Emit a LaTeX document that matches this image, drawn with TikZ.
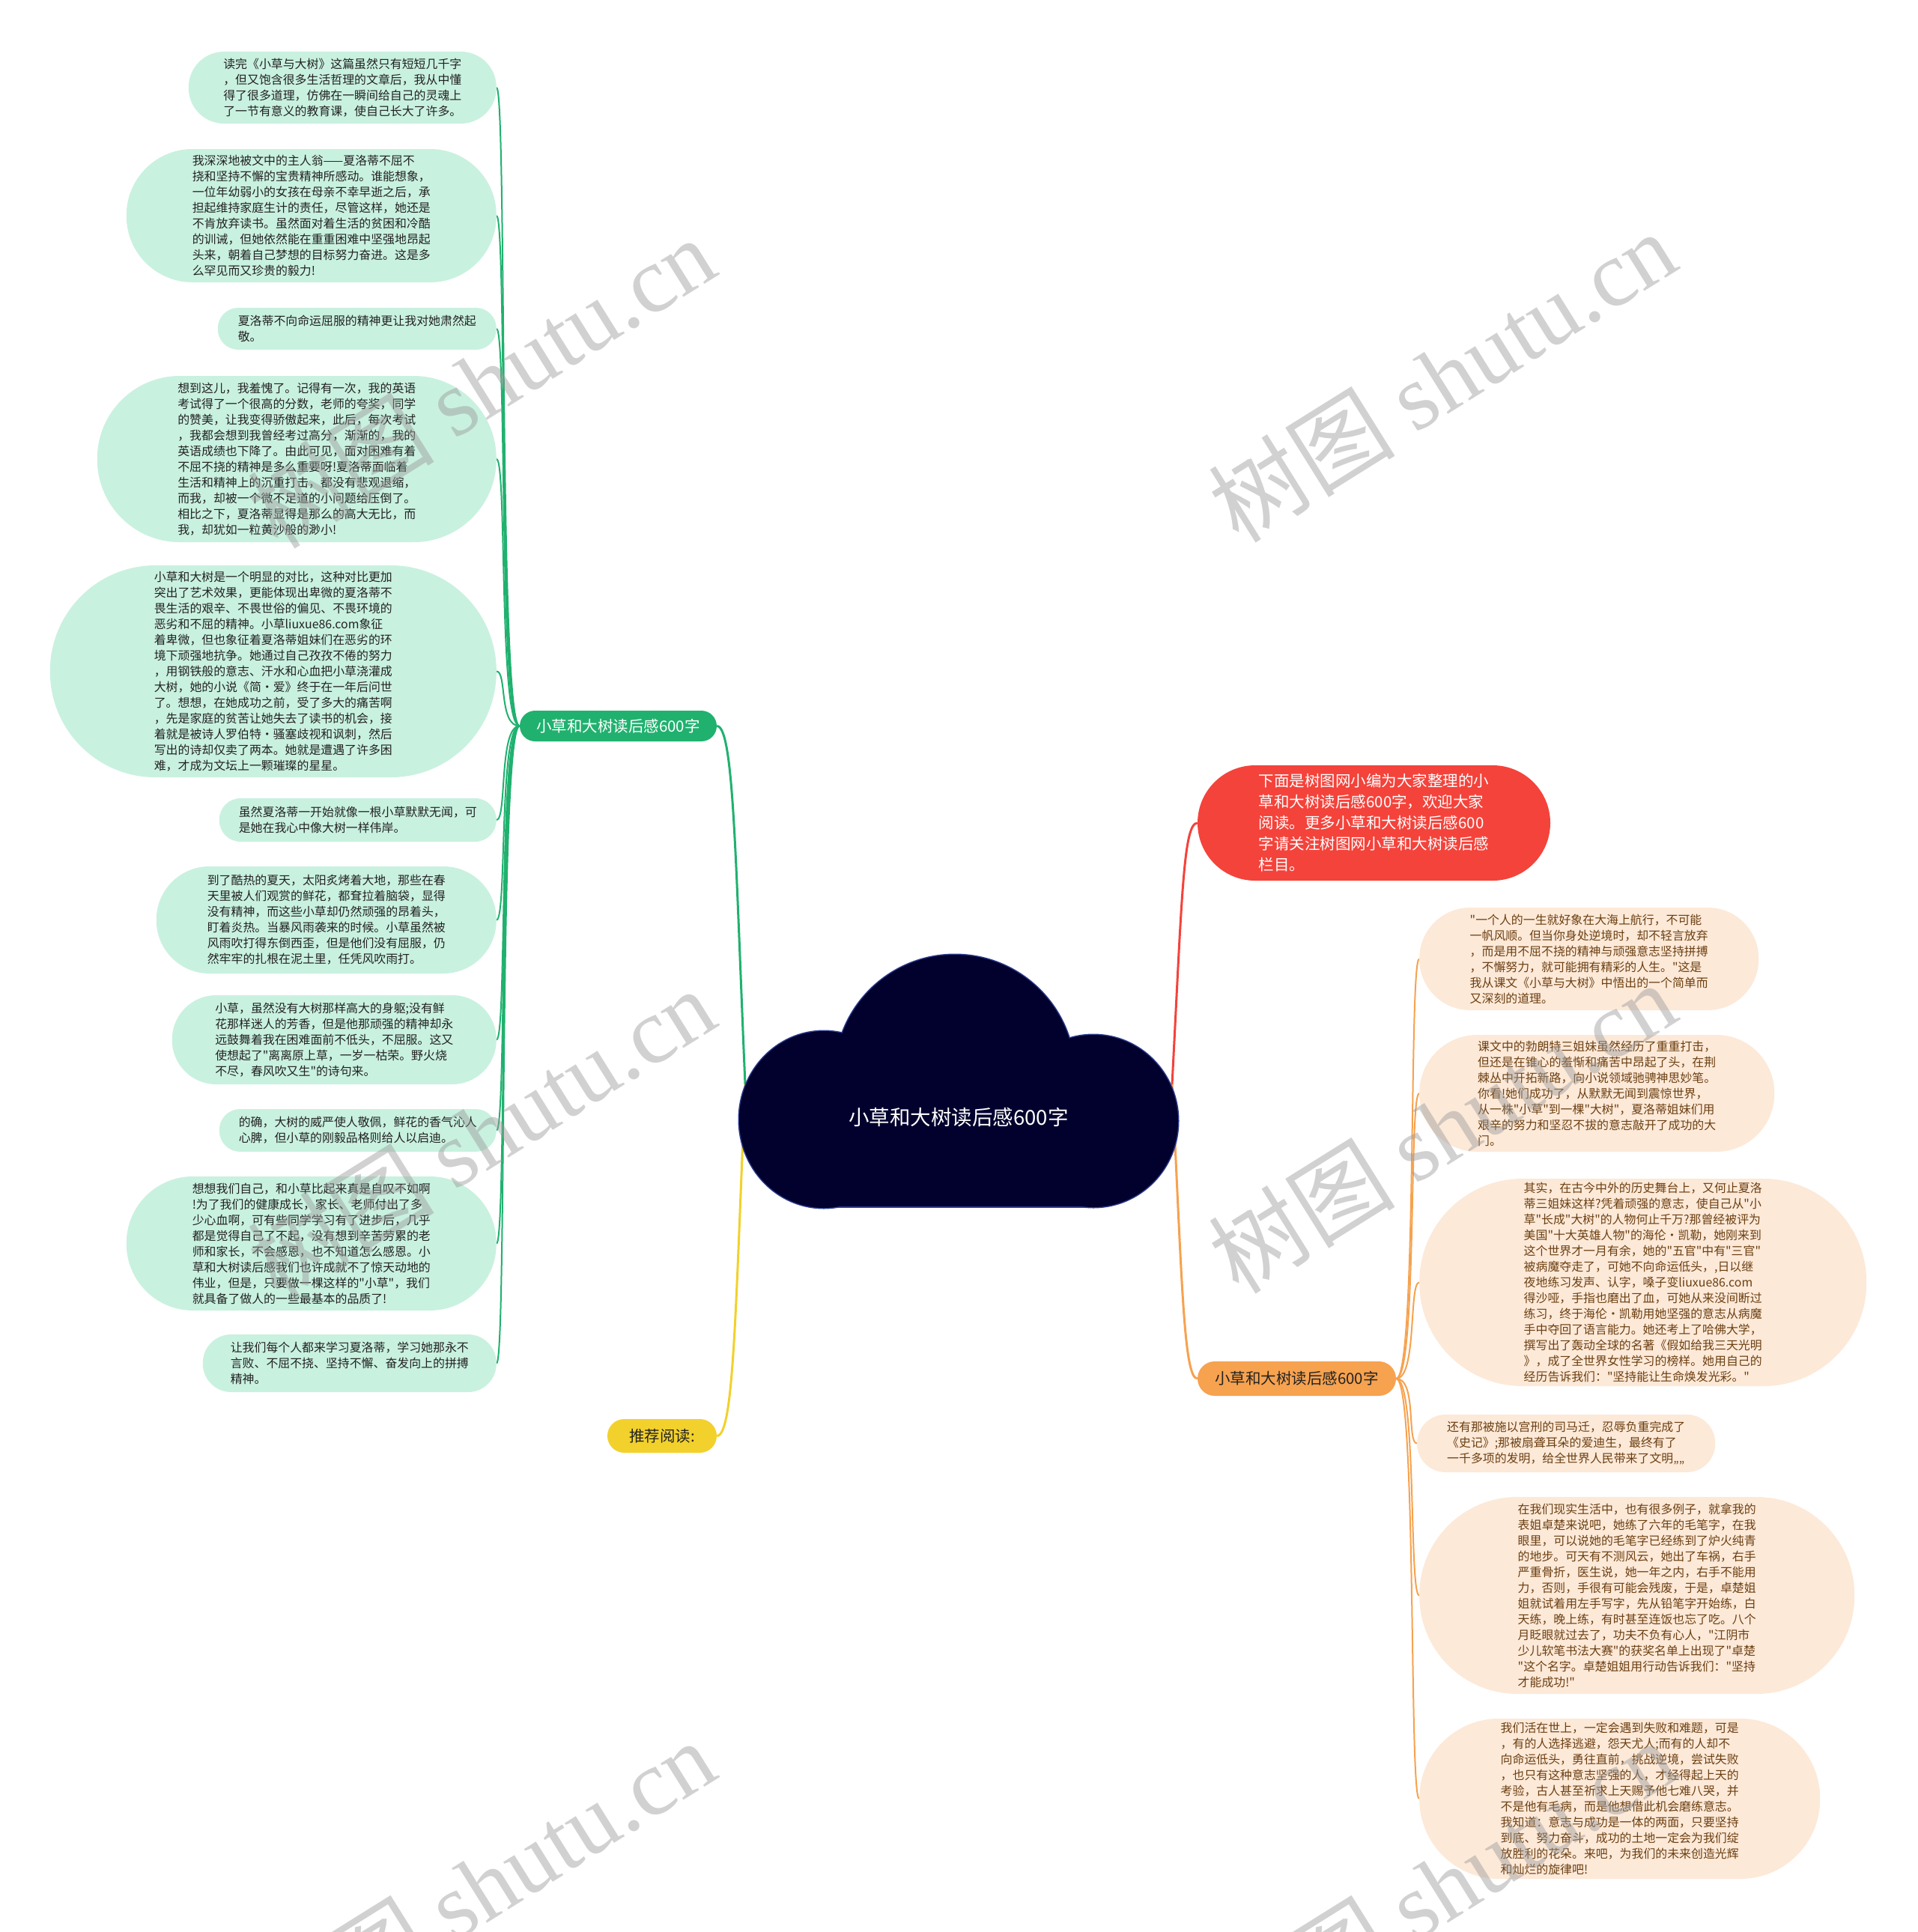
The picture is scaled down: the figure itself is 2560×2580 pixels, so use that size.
\documentclass[tikz,border=0pt]{standalone}
\usepackage{fontspec}
\setmainfont{Noto Sans CJK SC}
\newfontfamily\cjk{Noto Sans CJK SC}
\newfontfamily\wmserif{Liberation Serif}
\usetikzlibrary{shapes.misc,calc}
\definecolor{brgreen}{HTML}{20B16F}
\definecolor{lfgreen}{HTML}{C9F1E0}
\definecolor{bryellow}{HTML}{F2D12C}
\definecolor{brorange}{HTML}{F6A24F}
\definecolor{lfpeach}{HTML}{FDE9D8}
\definecolor{brred}{HTML}{F4433B}
\definecolor{cloudfill}{HTML}{02012E}
\definecolor{cloudline}{HTML}{2B3A8C}
\definecolor{txtL}{HTML}{222222}
\definecolor{txtR}{HTML}{6B3F12}
\definecolor{wmgray}{HTML}{9A9A9A}
\pgfdeclarelayer{bgl}
\pgfdeclarelayer{back}
\pgfdeclarelayer{top}
\pgfsetlayers{bgl,back,main,top}
\newcommand\leaffont{\cjk\fontsize{15.9pt}{21pt}\selectfont}
\newcommand\branchfont{\cjk\fontsize{20.5pt}{28pt}\selectfont}
\newcommand\cloudfont{\cjk\fontsize{27.5pt}{32pt}\selectfont}
\newcommand\wmfont{\cjk\fontsize{125pt}{130pt}\selectfont}
\begin{document}
\begin{tikzpicture}[x=1pt,y=-1pt,
  leafbase/.style 2 args={rectangle, minimum width=#1, minimum height=#2,
     rounded corners=#2*0.5pt-0.6pt, align=left, inner sep=0pt, font=\leaffont},
  leafL/.style 2 args={leafbase={#1}{#2}, fill=lfgreen, text=txtL, anchor=east},
  leafR/.style 2 args={leafbase={#1}{#2}, fill=lfpeach, text=txtR, anchor=west},
  branch/.style={rounded rectangle, inner xsep=0pt, inner ysep=0pt, font=\branchfont, align=left},
  linkG/.style={draw=brgreen, line width=2pt},
  linkO/.style={draw=brorange, line width=2pt},
  mainG/.style={draw=brgreen, line width=3pt},
  mainY/.style={draw=bryellow, line width=3pt},
  mainR/.style={draw=brred, line width=3pt},
  mainO/.style={draw=brorange, line width=3pt},
  cloudpart/.style={fill=cloudfill},
  cloudedge/.style={draw=cloudline, line width=3pt},
  wm/.style={text=wmgray, opacity=0.45, rotate=32, font=\wmfont, inner sep=0pt}
]
\useasboundingbox (0,0) rectangle (2560,2580);
\begin{pgfonlayer}{bgl}
\fill[white] (0,0) rectangle (2560,2580);
\end{pgfonlayer}

% ---------- cloud ----------
\path[cloudedge] (1275,1435) circle (160);
\path[cloudedge] (1100,1495) ellipse (113 and 118);
\path[cloudedge] (1460,1497) ellipse (113 and 115);
\path[cloudedge] (1100,1450) rectangle (1460,1611);
\path[cloudpart] (1275,1435) circle (160);
\path[cloudpart] (1100,1495) ellipse (113 and 118);
\path[cloudpart] (1460,1497) ellipse (113 and 115);
\path[cloudpart] (1100,1450) rectangle (1460,1611);
\node[text=white, font=\cloudfont, inner sep=0pt] (root) at (1280,1492) {小草和大树读后感600字};
\coordinate (cl) at (995,1448);
\coordinate (cr) at (1565,1448);

% ---------- branch nodes ----------
\node[branch, fill=brgreen, text=white, minimum width=263, minimum height=41] (gB) at (825.5,969.5) {小草和大树读后感600字};
\node[branch, fill=bryellow, text=txtL, minimum width=146, minimum height=45] (yB) at (884,1917.5) {推荐阅读:};
\node[branch, fill=brorange, text=txtL, minimum width=265, minimum height=46] (oB) at (1731.5,1841) {小草和大树读后感600字};
\node[branch, fill=brred, text=white, minimum width=471, minimum height=154] (rB) at (1834.5,1099) {下面是树图网小编为大家整理的小\\草和大树读后感600字，欢迎大家\\阅读。更多小草和大树读后感600\\字请关注树图网小草和大树读后感\\栏目。};

% ---------- left leaves ----------
\node[leafL={411}{96}] (L1) at (663,117) {读完《小草与大树》这篇虽然只有短短几千字\\，但又饱含很多生活哲理的文章后，我从中懂\\得了很多道理，仿佛在一瞬间给自己的灵魂上\\了一节有意义的教育课，使自己长大了许多。};
\node[leafL={494}{178}] (L2) at (663,288) {我深深地被文中的主人翁——夏洛蒂不屈不\\挠和坚持不懈的宝贵精神所感动。谁能想象，\\一位年幼弱小的女孩在母亲不幸早逝之后，承\\担起维持家庭生计的责任，尽管这样，她还是\\不肯放弃读书。虽然面对着生活的贫困和冷酷\\的训诫，但她依然能在重重困难中坚强地昂起\\头来，朝着自己梦想的目标努力奋进。这是多\\么罕见而又珍贵的毅力!};
\node[leafL={372}{56}] (L3) at (663,439) {夏洛蒂不向命运屈服的精神更让我对她肃然起\\敬。};
\node[leafL={533}{222}] (L4) at (663,613) {想到这儿，我羞愧了。记得有一次，我的英语\\考试得了一个很高的分数，老师的夸奖，同学\\的赞美，让我变得骄傲起来，此后，每次考试\\，我都会想到我曾经考过高分，渐渐的，我的\\英语成绩也下降了。由此可见，面对困难有着\\不屈不挠的精神是多么重要呀!夏洛蒂面临着\\生活和精神上的沉重打击，都没有悲观退缩，\\而我，却被一个微不足道的小问题给压倒了。\\相比之下，夏洛蒂显得是那么的高大无比，而\\我，却犹如一粒黄沙般的渺小!};
\node[leafL={596}{283}] (L5) at (663,896.5) {小草和大树是一个明显的对比，这种对比更加\\突出了艺术效果，更能体现出卑微的夏洛蒂不\\畏生活的艰辛、不畏世俗的偏见、不畏环境的\\恶劣和不屈的精神。小草liuxue86.com象征\\着卑微，但也象征着夏洛蒂姐妹们在恶劣的环\\境下顽强地抗争。她通过自己孜孜不倦的努力\\，用钢铁般的意志、汗水和心血把小草浇灌成\\大树，她的小说《简·爱》终于在一年后问世\\了。想想，在她成功之前，受了多大的痛苦啊\\，先是家庭的贫苦让她失去了读书的机会，接\\着就是被诗人罗伯特·骚塞歧视和讽刺，然后\\写出的诗却仅卖了两本。她就是遭遇了许多困\\难，才成为文坛上一颗璀璨的星星。};
\node[leafL={370}{58}] (L6) at (663,1095) {虽然夏洛蒂一开始就像一根小草默默无闻，可\\是她在我心中像大树一样伟岸。};
\node[leafL={454}{143}] (L7) at (663,1228.5) {到了酷热的夏天，太阳炙烤着大地，那些在春\\天里被人们观赏的鲜花，都耷拉着脑袋，显得\\没有精神，而这些小草却仍然顽强的昂着头，\\盯着炎热。当暴风雨袭来的时候。小草虽然被\\风雨吹打得东倒西歪，但是他们没有屈服，仍\\然牢牢的扎根在泥土里，任凭风吹雨打。};
\node[leafL={433}{119}] (L8) at (663,1388.5) {小草，虽然没有大树那样高大的身躯;没有鲜\\花那样迷人的芳香，但是他那顽强的精神却永\\远鼓舞着我在困难面前不低头，不屈服。这又\\使想起了"离离原上草，一岁一枯荣。野火烧\\不尽，春风吹又生"的诗句来。};
\node[leafL={370}{57}] (L9) at (663,1509.5) {的确，大树的威严使人敬佩，鲜花的香气沁人\\心脾，但小草的刚毅品格则给人以启迪。};
\node[leafL={494}{179}] (L10) at (663,1660.5) {想想我们自己，和小草比起来真是自叹不如啊\\!为了我们的健康成长，家长、老师付出了多\\少心血啊，可有些同学学习有了进步后，几乎\\都是觉得自己了不起，没有想到辛苦劳累的老\\师和家长，不会感恩，也不知道怎么感恩。小\\草和大树读后感我们也许成就不了惊天动地的\\伟业，但是，只要做一棵这样的"小草"，我们\\就具备了做人的一些最基本的品质了!};
\node[leafL={392}{77}] (L11) at (663,1820.5) {让我们每个人都来学习夏洛蒂，学习她那永不\\言败、不屈不挠、坚持不懈、奋发向上的拼搏\\精神。};

% ---------- right leaves ----------
\node[leafR={453}{137}] (R1) at (1895,1280.5) {"一个人的一生就好象在大海上航行，不可能\\一帆风顺。但当你身处逆境时，却不轻言放弃\\，而是用不屈不挠的精神与顽强意志坚持拼搏\\，不懈努力，就可能拥有精彩的人生。"这是\\我从课文《小草与大树》中悟出的一个简单而\\又深刻的道理。};
\node[leafR={474}{156}] (R2) at (1895,1460) {课文中的勃朗特三姐妹虽然经历了重重打击，\\但还是在锥心的羞惭和痛苦中昂起了头，在荆\\棘丛中开拓新路，向小说领域驰骋神思妙笔。\\你看!她们成功了，从默默无闻到震惊世界，\\从一株"小草"到一棵"大树"，夏洛蒂姐妹们用\\艰辛的努力和坚忍不拔的意志敲开了成功的大\\门。};
\node[leafR={597}{277}] (R3) at (1895,1712.5) {其实，在古今中外的历史舞台上，又何止夏洛\\蒂三姐妹这样?凭着顽强的意志，使自己从"小\\草"长成"大树"的人物何止千万?那曾经被评为\\美国"十大英雄人物"的海伦·凯勒，她刚来到\\这个世界才一月有余，她的"五官"中有"三官"\\被病魔夺走了，可她不向命运低头，,日以继\\夜地练习发声、认字，嗓子变liuxue86.com\\得沙哑，手指也磨出了血，可她从来没间断过\\练习，终于海伦·凯勒用她坚强的意志从病魔\\手中夺回了语言能力。她还考上了哈佛大学，\\撰写出了轰动全球的名著《假如给我三天光明\\》，成了全世界女性学习的榜样。她用自己的\\经历告诉我们："坚持能让生命焕发光彩。"};
\node[leafR={398}{77}] (R4) at (1892,1927.5) {还有那被施以宫刑的司马迁，忍辱负重完成了\\《史记》;那被扇聋耳朵的爱迪生，最终有了\\一千多项的发明，给全世界人民带来了文明„„};
\node[leafR={581}{263}] (R5) at (1895,2130.5) {在我们现实生活中，也有很多例子，就拿我的\\表姐卓楚来说吧，她练了六年的毛笔字，在我\\眼里，可以说她的毛笔字已经练到了炉火纯青\\的地步。可天有不测风云，她出了车祸，右手\\严重骨折，医生说，她一年之内，右手不能用\\力，否则，手很有可能会残废，于是，卓楚姐\\姐就试着用左手写字，先从铅笔字开始练，白\\天练，晚上练，有时甚至连饭也忘了吃。八个\\月眨眼就过去了，功夫不负有心人，"江阴市\\少儿软笔书法大赛"的获奖名单上出现了"卓楚\\"这个名字。卓楚姐姐用行动告诉我们："坚持\\才能成功!"};
\node[leafR={535}{214}] (R6) at (1895,2402) {我们活在世上，一定会遇到失败和难题，可是\\，有的人选择逃避，怨天尤人;而有的人却不\\向命运低头，勇往直前，挑战逆境，尝试失败\\，也只有这种意志坚强的人，才经得起上天的\\考验，古人甚至祈求上天赐予他七难八哭，并\\不是他有毛病，而是他想借此机会磨练意志。\\我知道：意志与成功是一体的两面，只要坚持\\到底、努力奋斗，成功的土地一定会为我们绽\\放胜利的花朵。来吧，为我们的未来创造光辉\\和灿烂的旋律吧!};

% ---------- connectors ----------
\begin{pgfonlayer}{back}
\draw[mainG] (cl) .. controls (982,1150) and (980,969.5) .. (gB.east);
\draw[mainY] (cl) .. controls (982,1750) and (980,1917.5) .. (yB.east);
\draw[mainR] (cr) .. controls (1578,1200) and (1580,1099) .. (rB.west);
\draw[mainO] (cr) .. controls (1578,1700) and (1580,1841) .. (oB.west);
\foreach \n in {L1,L2,L3,L4,L5,L6,L7,L8,L9,L10,L11}{
  \draw[linkG] (gB.west) .. controls ($(gB.west)+(-28,0)$) and ($(\n.east)+(14,0)$) .. (\n.east);
}
\foreach \n in {R1,R2,R3,R4,R5,R6}{
  \draw[linkO] (oB.east) .. controls ($(oB.east)+(28,0)$) and ($(\n.west)+(-14,0)$) .. (\n.west);
}
\end{pgfonlayer}

% ---------- watermarks ----------
\begin{pgfonlayer}{top}
\node[wm] (w1) at (642,510) {树图 {\wmserif shutu.cn}};
\node[wm] (w2) at (1925,502) {树图 {\wmserif shutu.cn}};
\node[wm] (w3) at (642,1513) {树图 {\wmserif shutu.cn}};
\node[wm] (w4) at (1925,1505) {树图 {\wmserif shutu.cn}};
\node[wm] (w5) at (642,2517) {树图 {\wmserif shutu.cn}};
\node[wm] (w6) at (1925,2517) {树图 {\wmserif shutu.cn}};
\end{pgfonlayer}
\end{tikzpicture}
\end{document}
